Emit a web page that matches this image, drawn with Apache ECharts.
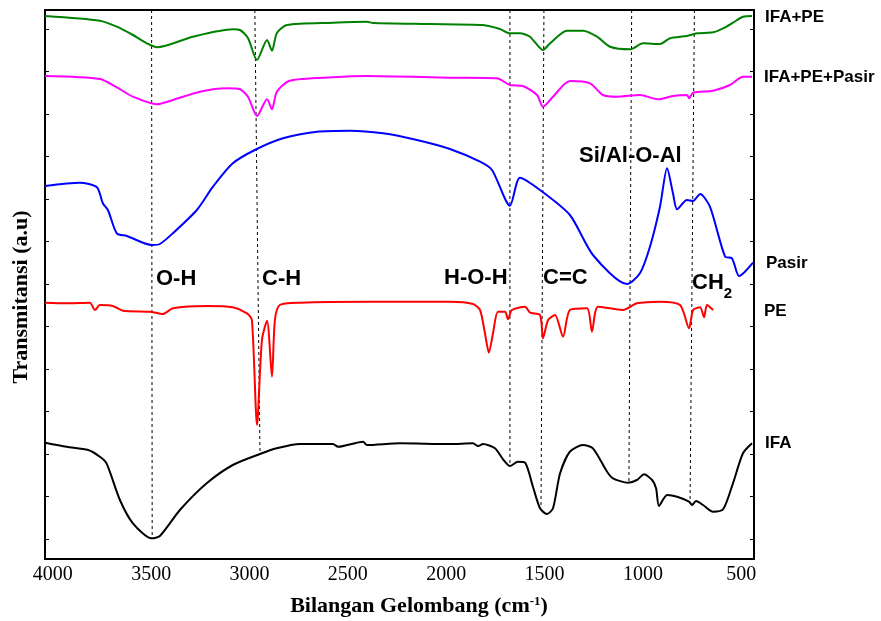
<!DOCTYPE html>
<html>
<head>
<meta charset="utf-8">
<script src="https://cdn.jsdelivr.net/npm/echarts@6/dist/echarts.min.js"></script>
<style>
    html, body { margin: 0; padding: 0; background: #fff; }
    #chart { width: 881px; height: 621px; }
</style>
</head>
<body>
<div id="chart"></div>
<script>
// sumbu x: bilangan gelombang (cm-1)
var wnLabels = [4000, 3500, 3000, 2500, 2000, 1500, 1000, 500];
// posisi tick kecil di sumbu y (a.u)
var yTicks = [20, 62.5, 105, 147.5, 190, 232.5, 275, 317.5, 360, 402.5, 445, 487.5, 530];

// spektrum FTIR, [bilangan gelombang, transmitansi a.u]
var ifaPe = [
    [4040, 543], [3761, 538.3], [3675, 532.3], [3593, 524], [3522, 515.7], [3471, 511.7],
    [3288, 522.3], [3085, 529.7], [3049, 529], [3008, 521], [2962, 499], [2911, 519],
    [2886, 508.3], [2861, 526], [2810, 534], [2576, 536.3], [2403, 537.3], [2372, 536],
    [2083, 535], [1813, 534], [1727, 530], [1676, 525.7], [1625, 525.7], [1574, 522.3],
    [1508, 509], [1472, 515.7], [1386, 528.3], [1304, 528.3], [1233, 522.3], [1167, 512.3],
    [1065, 509.7], [999, 515.7], [913, 515], [862, 520.7], [776, 523], [725, 525.7],
    [643, 526.7], [592, 530.7], [542, 536.3], [491, 542.3], [445, 543]
];
var ifaPePasir = [
    [4040, 483], [3761, 480], [3675, 471.7], [3593, 462.3], [3471, 454.7], [3390, 459],
    [3252, 467.3], [3115, 470.7], [3049, 469.7], [3008, 462.3], [2962, 443], [2911, 459.7],
    [2886, 449.7], [2861, 467.3], [2795, 478.3], [2576, 481.7], [2403, 483], [1981, 481.3],
    [1742, 480.7], [1676, 474], [1610, 473], [1538, 464], [1508, 452.3], [1457, 462.3],
    [1371, 478], [1269, 475.7], [1203, 464], [1132, 462.3], [1015, 464], [923, 459.7],
    [847, 463], [776, 464], [765, 460.7], [745, 466.3], [643, 468.3], [557, 474],
    [491, 482.3], [445, 482.3]
];
var pasir = [
    [4040, 373], [3863, 376.3], [3776, 371.7], [3746, 355.7], [3720, 349], [3675, 325.7],
    [3624, 323], [3497, 314], [3456, 315], [3390, 325.7], [3268, 349], [3186, 372.3],
    [3085, 395.7], [2973, 409], [2830, 420.7], [2657, 427.3], [2489, 428.3], [2322, 425.7],
    [2149, 419], [1981, 410], [1828, 397.3], [1767, 389], [1676, 353.3], [1625, 381.3],
    [1523, 369], [1371, 344], [1254, 304], [1081, 275], [1015, 285.7], [964, 312.3],
    [913, 352.3], [877, 390.7], [847, 365.7], [826, 349.7], [776, 359], [745, 358],
    [709, 365], [659, 352.3], [582, 302.3], [547, 300.7], [511, 283], [481, 287.3], [440, 296.3]
];
var pe = [
    [4040, 256.3], [3930, 255.7], [3812, 256.3], [3786, 249], [3761, 254], [3695, 253],
    [3644, 248.3], [3507, 247.3], [3441, 245], [3390, 250.7], [3217, 253], [3085, 251.7],
    [3013, 245.7], [2988, 239], [2962, 134], [2937, 219], [2911, 238.3], [2886, 182.3],
    [2871, 239], [2846, 254], [2744, 256.3], [2403, 257.3], [1981, 257.3], [1864, 255],
    [1828, 249], [1803, 225.7], [1783, 206.3], [1762, 225.7], [1737, 247.3], [1701, 247.3],
    [1686, 239.7], [1666, 249], [1599, 252.3], [1574, 246.3], [1523, 244], [1508, 220.7],
    [1482, 239], [1447, 244], [1406, 222.3], [1371, 249], [1284, 250.7], [1259, 227.3],
    [1228, 252.3], [1101, 249], [1030, 255.7], [913, 257.3], [811, 254], [765, 230.7],
    [745, 249], [709, 251.7], [689, 241.7], [674, 254], [643, 249]
];
var ifa = [
    [4040, 116.3], [3930, 112.3], [3820, 109], [3761, 102.3], [3727, 95.7], [3659, 59],
    [3593, 35.7], [3498, 20.7], [3456, 23], [3354, 49], [3218, 75.7], [3085, 94],
    [2947, 105], [2862, 110.7], [2744, 115], [2576, 115], [2550, 112.3], [2423, 117.3],
    [2403, 114], [2235, 115.7], [1981, 115], [1864, 115.7], [1838, 113], [1813, 115],
    [1752, 110.7], [1711, 99.7], [1676, 93], [1635, 97.3], [1599, 96.3], [1559, 72.3],
    [1523, 50.7], [1488, 45], [1457, 50.7], [1421, 85.7], [1371, 107.3], [1304, 114],
    [1254, 110.7], [1182, 87.3], [1152, 80.7], [1076, 76.3], [1030, 79], [994, 84.7],
    [953, 79], [933, 70.7], [918, 53], [877, 64], [826, 62.3], [765, 57.3], [750, 54],
    [730, 58], [694, 54], [643, 47.3], [592, 49.7], [542, 75.7], [491, 105.7], [445, 115.7]
];

var seriesNames = ['IFA+PE', 'IFA+PE+Pasir', 'Pasir', 'PE', 'IFA'];
var seriesColors = ['#008000', '#ff00ff', '#0000ff', '#ff0000', '#000000'];
var seriesData = [ifaPe, ifaPePasir, pasir, pe, ifa];

// garis putus-putus gugus fungsi: x atas, x bawah, ujung bawah (a.u)
var bandNames = ['O-H', 'C-H', 'H-O-H', 'C=C', 'Si/Al-O-Al', 'CH2'];
var bandTopWn = [3498, 2973, 1676, 1503, 1057, 738];
var bandBottomWn = [3495, 2947, 1676, 1518, 1071, 760];
var bandBottomT = [21, 106, 94, 54, 77, 59];

var myChart = echarts.init(document.getElementById('chart'));

var series = [];
for (var i = 0; i < bandNames.length; i++) {
    series.push({
        name: bandNames[i],
        type: 'line',
        symbol: 'none',
        silent: true,
        data: [[bandTopWn[i], 549], [bandBottomWn[i], bandBottomT[i]]],
        lineStyle: { color: '#000', width: 1, type: [3, 3] },
        z: 1
    });
}
for (var j = 0; j < seriesNames.length; j++) {
    series.push({
        name: seriesNames[j],
        type: 'line',
        symbol: 'none',
        smooth: 0.25,
        data: seriesData[j],
        lineStyle: { color: seriesColors[j], width: 2 },
        z: 2
    });
}

var boldSans = 'bold 22px "Liberation Sans", Arial, sans-serif';
var labelSans = 'bold 17px "Liberation Sans", Arial, sans-serif';

var option = {
    animation: false,
    grid: {
        left: 45,
        right: 127,
        top: 10,
        bottom: 62,
        show: true,
        borderColor: '#000',
        borderWidth: 2
    },
    xAxis: {
        type: 'value',
        inverse: true,
        min: 435,
        max: 4040,
        axisLine: { show: false },
        axisTick: { show: false },
        splitLine: { show: false },
        axisLabel: {
            customValues: wnLabels,
            formatter: function (v) { return String(v); },
            margin: 6,
            color: '#000',
            fontSize: 20,
            fontFamily: '"Liberation Serif", "Times New Roman", serif'
        }
    },
    yAxis: [
        {
            type: 'value',
            min: 0,
            max: 549,
            axisLine: { show: false },
            axisLabel: { show: false },
            splitLine: { show: false },
            axisTick: { show: true, inside: true, length: 4, customValues: yTicks, lineStyle: { color: '#000' } }
        },
        {
            type: 'value',
            position: 'right',
            min: 0,
            max: 549,
            axisLine: { show: false },
            axisLabel: { show: false },
            splitLine: { show: false },
            axisTick: { show: true, inside: true, length: 4, customValues: yTicks, lineStyle: { color: '#000' } }
        }
    ],
    series: series,
    graphic: [
        // label gugus fungsi
        { type: 'text', x: 156, y: 279, style: { text: 'O-H', font: boldSans, fill: '#000', align: 'left', verticalAlign: 'middle' } },
        { type: 'text', x: 262, y: 279, style: { text: 'C-H', font: boldSans, fill: '#000', align: 'left', verticalAlign: 'middle' } },
        { type: 'text', x: 444, y: 278, style: { text: 'H-O-H', font: boldSans, fill: '#000', align: 'left', verticalAlign: 'middle' } },
        { type: 'text', x: 543, y: 278, style: { text: 'C=C', font: boldSans, fill: '#000', align: 'left', verticalAlign: 'middle' } },
        { type: 'text', x: 579, y: 156, style: { text: 'Si/Al-O-Al', font: boldSans, fill: '#000', align: 'left', verticalAlign: 'middle' } },
        {
            type: 'text', x: 692, y: 284,
            style: {
                text: '{a|CH}{s|2}',
                align: 'left', verticalAlign: 'middle',
                rich: {
                    a: { font: boldSans, fill: '#000', lineHeight: 24, verticalAlign: 'top' },
                    s: { font: 'bold 15px "Liberation Sans", Arial, sans-serif', fill: '#000', lineHeight: 16, padding: [14, 0, 0, 0], verticalAlign: 'top' }
                }
            }
        },
        // nama sampel di kanan
        { type: 'text', x: 765, y: 17, style: { text: 'IFA+PE', font: labelSans, fill: '#000', align: 'left', verticalAlign: 'middle' } },
        { type: 'text', x: 764, y: 77, style: { text: 'IFA+PE+Pasir', font: labelSans, fill: '#000', align: 'left', verticalAlign: 'middle' } },
        { type: 'text', x: 766, y: 263, style: { text: 'Pasir', font: labelSans, fill: '#000', align: 'left', verticalAlign: 'middle' } },
        { type: 'text', x: 764, y: 311, style: { text: 'PE', font: labelSans, fill: '#000', align: 'left', verticalAlign: 'middle' } },
        { type: 'text', x: 765, y: 443, style: { text: 'IFA', font: labelSans, fill: '#000', align: 'left', verticalAlign: 'middle' } },
        // judul sumbu
        {
            type: 'text', x: 21, y: 297, rotation: Math.PI / 2,
            style: { text: 'Transmitansi (a.u)', font: 'bold 22px "Liberation Serif", "Times New Roman", serif', fill: '#000', align: 'center', verticalAlign: 'middle' }
        },
        {
            type: 'text', x: 419, y: 606,
            style: {
                text: '{b|Bilangan Gelombang (cm}{p|-1}{b|)}',
                align: 'center', verticalAlign: 'middle',
                rich: {
                    b: { font: 'bold 22px "Liberation Serif", "Times New Roman", serif', fill: '#000', verticalAlign: 'bottom' },
                    p: { font: 'bold 13px "Liberation Serif", "Times New Roman", serif', fill: '#000', verticalAlign: 'top' }
                }
            }
        }
    ]
};

myChart.setOption(option);
</script>
</body>
</html>
